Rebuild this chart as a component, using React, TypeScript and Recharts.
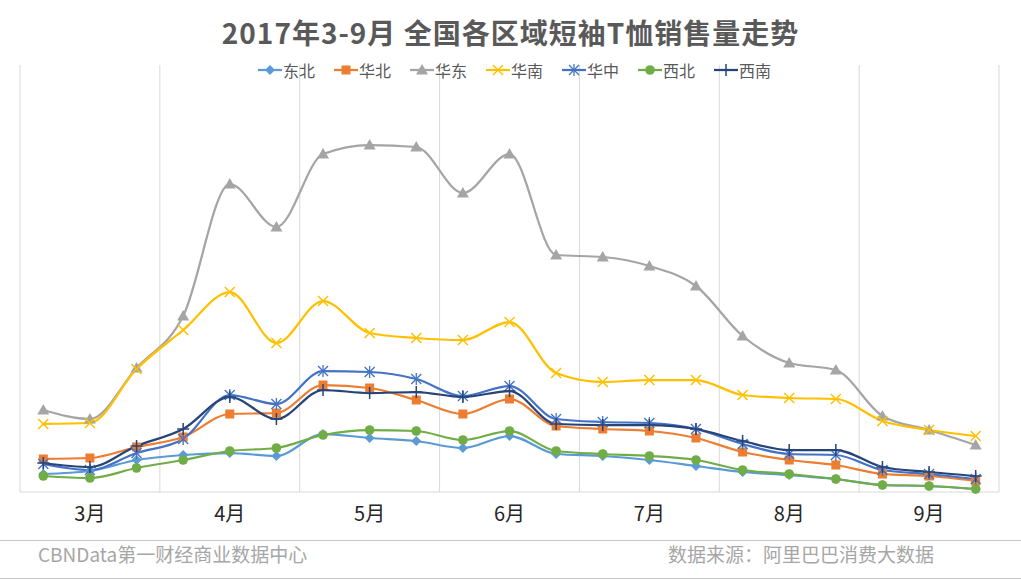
import React from 'react';
import { LineChart, Line, XAxis, YAxis, CartesianGrid } from 'recharts';

// 3 readings per month (上旬 / 中旬 / 下旬)
const months = ['3月', '4月', '5月', '6月', '7月', '8月', '9月'];
const periods = months.flatMap((m) => [m + '上旬', m + '中旬', m + '下旬']);
const monthTicks = months.map((m) => m + '中旬');

// values (relative sales volume)
const dongbei = [18, 21, 32, 37, 39, 36, 58, 54, 51, 44, 56, 38, 36, 32, 26, 20, 17, 13, 7, 6, 3];
const huabei = [33, 34, 45, 55, 78, 79, 107, 104, 92, 78, 93, 66, 63, 61, 54, 40, 32, 27, 18, 16, 11];
const huadong = [82, 73, 124, 176, 308, 265, 338, 347, 345, 299, 338, 237, 235, 226, 206, 156, 129, 122, 76, 62, 47];
const huanan = [68, 69, 123, 162, 200, 149, 191, 159, 154, 152, 170, 119, 110, 112, 112, 97, 94, 93, 71, 62, 56];
const huazhong = [28, 22, 39, 53, 97, 88, 121, 120, 113, 96, 106, 73, 70, 69, 63, 48, 38, 37, 22, 18, 13];
const xibei = [16, 14, 24, 32, 41, 44, 57, 62, 61, 52, 61, 41, 38, 36, 32, 22, 18, 13, 7, 6, 3];
const xinan = [29, 25, 46, 63, 95, 73, 102, 99, 100, 95, 101, 68, 67, 67, 63, 51, 42, 42, 25, 20, 16];

const series = [
  { key: '东北', values: dongbei, color: '#5B9BD5', shape: 'diamond' },
  { key: '华北', values: huabei, color: '#ED7D31', shape: 'square' },
  { key: '华东', values: huadong, color: '#A5A5A5', shape: 'triangle' },
  { key: '华南', values: huanan, color: '#FFC000', shape: 'cross' },
  { key: '华中', values: huazhong, color: '#4472C4', shape: 'star' },
  { key: '西北', values: xibei, color: '#70AD47', shape: 'circle' },
  { key: '西南', values: xinan, color: '#264478', shape: 'plus' },
];

const data = periods.map((p, i) => {
  const row: any = { period: p };
  series.forEach((s) => (row[s.key] = s.values[i]));
  return row;
});

const FONT = '"Noto Sans CJK SC", "Noto Sans", sans-serif';
const PLOT_W = 1021 - 20 - 22;
const HALF_BAND = PLOT_W / periods.length / 2;

function marker(shape: string, color: string, cx: number, cy: number) {
  switch (shape) {
    case 'diamond':
      return <polygon points={`${cx},${cy - 5} ${cx + 5},${cy} ${cx},${cy + 5} ${cx - 5},${cy}`} fill={color} />;
    case 'square':
      return <rect x={cx - 4.5} y={cy - 4.5} width={9} height={9} fill={color} />;
    case 'triangle':
      return <polygon points={`${cx},${cy - 6} ${cx + 6},${cy + 4.5} ${cx - 6},${cy + 4.5}`} fill={color} />;
    case 'cross':
      return (
        <g stroke={color} strokeWidth={1.5}>
          <line x1={cx - 5} y1={cy - 5} x2={cx + 5} y2={cy + 5} />
          <line x1={cx - 5} y1={cy + 5} x2={cx + 5} y2={cy - 5} />
        </g>
      );
    case 'star':
      return (
        <g stroke={color} strokeWidth={1.3}>
          <line x1={cx - 5} y1={cy - 5} x2={cx + 5} y2={cy + 5} />
          <line x1={cx - 5} y1={cy + 5} x2={cx + 5} y2={cy - 5} />
          <line x1={cx} y1={cy - 6} x2={cx} y2={cy + 6} />
        </g>
      );
    case 'circle':
      return <circle cx={cx} cy={cy} r={4.8} fill={color} />;
    default:
      return (
        <g stroke={color} strokeWidth={1.5}>
          <line x1={cx - 6} y1={cy} x2={cx + 6} y2={cy} />
          <line x1={cx} y1={cy - 6} x2={cx} y2={cy + 6} />
        </g>
      );
  }
}

const makeDot = (shape: string, color: string) => (props: any) => {
  const { cx, cy, index } = props;
  if (cx == null || cy == null) return <g key={index} />;
  return <g key={index}>{marker(shape, color, cx, cy)}</g>;
};

// month separators: every 3 categories, plus both plot edges
const gridX = ({ offset }: any) =>
  months.map((_, i) => offset.left + (offset.width * i) / months.length).concat(offset.left + offset.width);

const App = () => {
  return (
    <div style={{ position: 'absolute', left: 0, top: 0, width: 1021, height: 581, background: '#fff', fontFamily: FONT }}>
      <LineChart width={1021} height={581} data={data} margin={{ top: 65, right: 22, bottom: 59, left: 20 }}>
        <CartesianGrid horizontal={false} stroke="#d9d9d9" verticalCoordinatesGenerator={gridX} />
        <XAxis
          dataKey="period"
          ticks={monthTicks}
          interval={0}
          padding={{ left: HALF_BAND, right: HALF_BAND }}
          tickFormatter={(v: string) => v.replace('中旬', '')}
          tickLine={false}
          tickMargin={9}
          height={30}
          axisLine={{ stroke: '#d9d9d9' }}
          tick={{ fill: '#262626', fontSize: 20, fontFamily: FONT }}
        />
        <YAxis hide domain={[0, 427]} />
        {series.map((s) => (
          <Line
            key={s.key}
            dataKey={s.key}
            type="monotone"
            stroke={s.color}
            strokeWidth={2.25}
            dot={makeDot(s.shape, s.color)}
            activeDot={false}
            isAnimationActive={false}
          />
        ))}
      </LineChart>

      <div style={{ position: 'absolute', left: 0, top: 13, width: 1021, lineHeight: '38px', textAlign: 'center', fontSize: 28, fontWeight: 700, letterSpacing: 1, color: '#595959' }}>
        2017年3-9月 全国各区域短袖T恤销售量走势
      </div>

      <div style={{ position: 'absolute', left: 4, top: 59, width: 1021, height: 22, display: 'flex', justifyContent: 'center', alignItems: 'center' }}>
        {series.map((s, i) => (
          <div key={s.key} style={{ display: 'flex', alignItems: 'center', marginRight: i === series.length - 1 ? 0 : 19 }}>
            <svg width={24} height={14}>
              <line x1={0} y1={7} x2={24} y2={7} stroke={s.color} strokeWidth={2.25} />
              {marker(s.shape, s.color, 12, 7)}
            </svg>
            <span style={{ marginLeft: 1, fontSize: 16, color: '#595959' }}>{s.key}</span>
          </div>
        ))}
      </div>

      <div style={{ position: 'absolute', left: 0, top: 540, width: 1021, borderTop: '1px solid #c8c8c8' }} />
      <div style={{ position: 'absolute', left: 38, top: 541, lineHeight: '26px', fontSize: 19, color: '#a6a6a6' }}>
        CBNData第一财经商业数据中心
      </div>
      <div style={{ position: 'absolute', left: 668, top: 541, lineHeight: '26px', fontSize: 19, color: '#a6a6a6' }}>
        数据来源：阿里巴巴消费大数据
      </div>
      <div style={{ position: 'absolute', left: 0, top: 578, width: 1021, borderTop: '1px solid #c8c8c8' }} />
    </div>
  );
};

export default App;
